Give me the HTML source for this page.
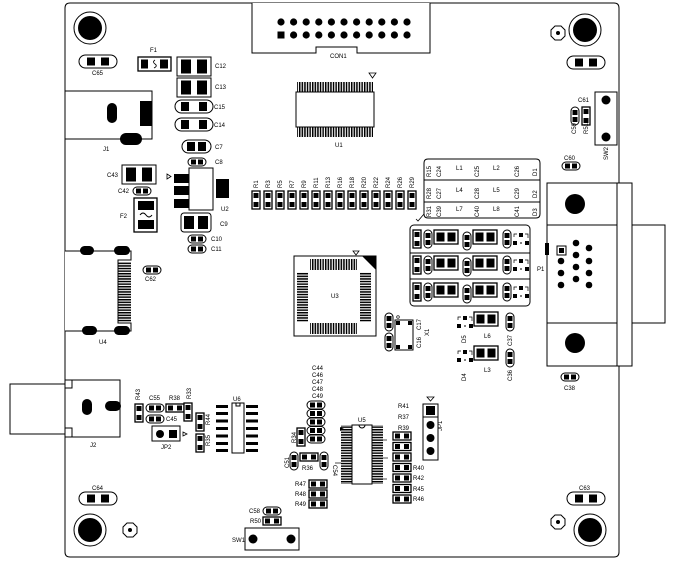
<!DOCTYPE html>
<html><head><meta charset="utf-8"><style>
html,body{margin:0;padding:0;background:#fff}
svg{display:block}
text{font-family:"Liberation Sans",sans-serif;font-size:6px;fill:#000}
</style></head><body>
<svg width="675" height="562" viewBox="0 0 675 562" xmlns="http://www.w3.org/2000/svg">
<defs>
<pattern id="vs" width="2.6" height="10" patternUnits="userSpaceOnUse"><rect width="1.5" height="10" fill="#000"/></pattern>
<pattern id="hs" width="10" height="2.6" patternUnits="userSpaceOnUse"><rect width="10" height="1.5" fill="#000"/></pattern>
<g id="capL"><rect x="0" y="0" width="38" height="13" rx="6.5" fill="#fff" stroke="#000"/><rect x="8" y="2.5" width="8" height="8"/><rect x="22" y="2.5" width="8" height="8"/></g>
<g id="capS"><rect x="0" y="0" width="18" height="8" rx="4" fill="#fff" stroke="#000"/><rect x="3" y="1.5" width="5" height="5"/><rect x="10" y="1.5" width="5" height="5"/></g>
<g id="capV"><rect x="0" y="0" width="8" height="18" rx="4" fill="#fff" stroke="#000"/><rect x="1.5" y="3" width="5" height="5"/><rect x="1.5" y="10" width="5" height="5"/></g>
<g id="resV"><rect x="0" y="0" width="8" height="18" fill="#fff" stroke="#000" stroke-width="1.3"/><rect x="1.5" y="2" width="5" height="5"/><rect x="1.5" y="11" width="5" height="5"/></g>
<g id="resH"><rect x="0" y="0" width="18" height="8" fill="#fff" stroke="#000" stroke-width="1.3"/><rect x="2" y="1.5" width="5" height="5"/><rect x="11" y="1.5" width="5" height="5"/></g>
<g id="capB"><rect x="0" y="0" width="34" height="19" fill="#fff" stroke="#000"/><rect x="4" y="2.5" width="10" height="14"/><rect x="20" y="2.5" width="10" height="14"/></g>
<g id="capR"><rect x="0" y="0" width="38" height="13" rx="6.5" fill="#fff" stroke="#000"/><rect x="6" y="2" width="8" height="9"/><rect x="24" y="2" width="8" height="9"/></g>
<g id="lind"><rect x="0" y="0" width="24" height="14" fill="#fff" stroke="#000" stroke-width="1.3"/><rect x="2.5" y="2.5" width="8" height="9"/><rect x="13.5" y="2.5" width="8" height="9"/></g>
<g id="diode"><path d="M2 4 V1 H5 M13 1 H16 V5" fill="none" stroke="#000" stroke-width="0.7"/><rect x="7" y="0" width="4" height="4"/><rect x="1" y="8" width="4" height="4"/><rect x="13" y="8" width="4" height="4"/><rect x="8" y="9.5" width="2" height="1"/></g>
<g id="hole"><circle r="16" fill="#fff" stroke="#000" stroke-width="1"/><circle r="12" fill="#000"/></g>
<g id="oct"><polygon points="-3,-7 3,-7 7,-3 7,3 3,7 -3,7 -7,3 -7,-3" fill="#fff" stroke="#000"/><circle r="2" fill="#000"/></g>
</defs>

<!-- board -->
<path d="M70 3 H614 Q619 3 619 8 V552 Q619 557 614 557 H70 Q65 557 65 552 V8 Q65 3 70 3 Z" fill="#fff" stroke="#000" stroke-width="1"/>

<!-- mounting holes -->
<use href="#hole" x="90" y="28"/>
<use href="#hole" x="585" y="30"/>
<use href="#hole" x="90" y="530"/>
<use href="#hole" x="590" y="530"/>
<use href="#oct" x="558" y="33"/>
<use href="#oct" x="130" y="530"/>
<use href="#oct" x="558" y="522"/>
<use href="#capL" x="79" y="55"/><text x="92" y="75">C65</text>
<use href="#capL" x="567" y="56"/>
<use href="#capL" x="79" y="492"/><text x="92" y="490">C64</text>
<use href="#capL" x="567" y="492"/><text x="579" y="490">C63</text>

<!-- CON1 -->
<path d="M252 3 V53 H316 V47 H357 V53 H430 V3" fill="#fff" stroke="#000"/>
<g fill="#000">
<circle cx="281" cy="22" r="3.6"/><circle cx="293.6" cy="22" r="3.6"/><circle cx="306.2" cy="22" r="3.6"/><circle cx="318.8" cy="22" r="3.6"/><circle cx="331.4" cy="22" r="3.6"/><circle cx="344" cy="22" r="3.6"/><circle cx="356.6" cy="22" r="3.6"/><circle cx="369.2" cy="22" r="3.6"/><circle cx="381.8" cy="22" r="3.6"/><circle cx="394.4" cy="22" r="3.6"/><circle cx="407" cy="22" r="3.6"/>
<rect x="277.5" y="31.5" width="7" height="7"/><circle cx="293.6" cy="35" r="3.6"/><circle cx="306.2" cy="35" r="3.6"/><circle cx="318.8" cy="35" r="3.6"/><circle cx="331.4" cy="35" r="3.6"/><circle cx="344" cy="35" r="3.6"/><circle cx="356.6" cy="35" r="3.6"/><circle cx="369.2" cy="35" r="3.6"/><circle cx="381.8" cy="35" r="3.6"/><circle cx="394.4" cy="35" r="3.6"/><circle cx="407" cy="35" r="3.6"/>
</g>
<text x="330" y="58">CON1</text>

<!-- U1 -->
<rect x="297" y="82" width="76" height="10" fill="url(#vs)"/>
<rect x="297" y="127" width="76" height="10" fill="url(#vs)"/>
<rect x="296" y="92" width="78" height="35" fill="#fff" stroke="#000"/>
<path d="M369 73 H376 L372.5 78 Z" fill="#fff" stroke="#000" stroke-width="0.8"/>
<text x="335" y="147">U1</text>

<!-- F1 and caps column -->
<rect x="138" y="57" width="33" height="14" fill="#fff" stroke="#000" stroke-width="1.3"/>
<rect x="141" y="59.5" width="7" height="9"/><rect x="160" y="59.5" width="8" height="9"/>
<path d="M155 60 q-3 2 0 4 q3 2 -1 4" fill="none" stroke="#000" stroke-width="0.8"/>
<text x="150" y="52">F1</text>
<use href="#capB" x="177" y="57"/><text x="215" y="68">C12</text>
<use href="#capB" x="177" y="78"/><text x="215" y="89">C13</text>
<use href="#capR" x="175" y="100"/><text x="214" y="109">C15</text>
<use href="#capR" x="175" y="118"/><text x="214" y="127">C14</text>
<rect x="182" y="140" width="29" height="13" rx="6.5" fill="#fff" stroke="#000"/><rect x="187" y="142" width="8" height="9"/><rect x="198" y="142" width="8" height="9"/><text x="215" y="149">C7</text>
<use href="#capS" x="188" y="158"/><text x="215" y="164">C8</text>
<!-- U2 -->
<rect x="174" y="174" width="15" height="9"/><rect x="174" y="186" width="15" height="9"/><rect x="174" y="199" width="15" height="9"/>
<rect x="189" y="168" width="24" height="42" fill="#fff" stroke="#000"/>
<rect x="216" y="179" width="13" height="19"/>
<path d="M167 174 L171 176.5 L167 179 Z" fill="#fff" stroke="#000" stroke-width="0.8"/>
<text x="221" y="211">U2</text>
<rect x="181" y="213" width="30" height="19" rx="3" fill="#fff" stroke="#000"/><rect x="184" y="216" width="10" height="13"/><rect x="198" y="216" width="10" height="13"/><text x="220" y="226">C9</text>
<use href="#capS" x="188" y="235"/><text x="211" y="241">C10</text>
<use href="#capS" x="188" y="245"/><text x="211" y="251">C11</text>
<use href="#capB" x="122" y="165"/><text x="107" y="177">C43</text>
<use href="#capS" x="133" y="187"/><text x="118" y="193">C42</text>
<rect x="134" y="198" width="23" height="34" fill="#fff" stroke="#000" stroke-width="1.3"/><rect x="138" y="201" width="16" height="9"/><rect x="138" y="220" width="16" height="9"/><path d="M140 215 q3 -4 6 0 q3 4 6 0" fill="none" stroke="#000"/>
<text x="120" y="218">F2</text>

<!-- J1 -->
<rect x="65" y="91" width="87" height="48" fill="#fff" stroke="#000"/>
<rect x="107" y="103" width="10" height="20" rx="5"/>
<rect x="140" y="101" width="12" height="25"/>
<rect x="120" y="133" width="22" height="12" rx="6"/>
<text x="103" y="151">J1</text>

<!-- U4 -->
<path d="M65 251 H131 V260 H118 V323 H131 V331 H65" fill="#fff" stroke="#000"/>
<rect x="118" y="262" width="13" height="60" fill="url(#hs)"/>
<rect x="80" y="246" width="14" height="9" rx="4.5"/><rect x="114" y="246" width="16" height="9" rx="4.5"/>
<rect x="82" y="326" width="15" height="9" rx="4.5"/><rect x="114" y="326" width="16" height="9" rx="4.5"/>
<text x="99" y="344">U4</text>
<use href="#capS" x="143" y="266"/><text x="145" y="281">C62</text>

<!-- J2 -->
<rect x="10" y="384" width="55" height="50" fill="#fff" stroke="#000"/>
<rect x="65" y="380" width="55" height="57" fill="#fff" stroke="#000"/>
<path d="M65 388 H72 V380 M65 428 H72 V437" fill="none" stroke="#000"/>
<rect x="82" y="399" width="10" height="16" rx="5"/>
<rect x="105" y="401" width="16" height="10" rx="5"/>
<text x="90" y="447">J2</text>

<!-- R1..R29 -->
<g>
<use href="#resV" x="252" y="191"/><use href="#resV" x="264" y="191"/><use href="#resV" x="276" y="191"/><use href="#resV" x="288" y="191"/><use href="#resV" x="300" y="191"/><use href="#resV" x="312" y="191"/><use href="#resV" x="324" y="191"/><use href="#resV" x="336" y="191"/><use href="#resV" x="348" y="191"/><use href="#resV" x="360" y="191"/><use href="#resV" x="372" y="191"/><use href="#resV" x="384" y="191"/><use href="#resV" x="396" y="191"/><use href="#resV" x="408" y="191"/>
</g>
<g font-size="5.5">
<text transform="translate(258,188) rotate(-90)">R1</text><text transform="translate(270,188) rotate(-90)">R3</text><text transform="translate(282,188) rotate(-90)">R5</text><text transform="translate(294,188) rotate(-90)">R7</text><text transform="translate(306,188) rotate(-90)">R9</text><text transform="translate(318,188) rotate(-90)">R11</text><text transform="translate(330,188) rotate(-90)">R13</text><text transform="translate(342,188) rotate(-90)">R16</text><text transform="translate(354,188) rotate(-90)">R18</text><text transform="translate(366,188) rotate(-90)">R20</text><text transform="translate(378,188) rotate(-90)">R22</text><text transform="translate(390,188) rotate(-90)">R24</text><text transform="translate(402,188) rotate(-90)">R26</text><text transform="translate(414,188) rotate(-90)">R29</text>
</g>

<!-- table -->
<path d="M428 159 H536 Q540 159 540 163 V214 Q540 218 536 218 H428 Q424 218 424 214 V163 Q424 159 428 159 Z" fill="#fff" stroke="#000"/>
<line x1="424" y1="180" x2="540" y2="180" stroke="#000"/><line x1="424" y1="202" x2="540" y2="202" stroke="#000"/>
<path d="M424 214 L418 221 L416 219" fill="none" stroke="#000" stroke-width="0.8"/>
<g font-size="5.5">
<text transform="translate(431,177) rotate(-90)">R15</text><text transform="translate(441,177) rotate(-90)">C24</text><text x="456" y="170">L1</text><text transform="translate(479,177) rotate(-90)">C25</text><text x="493" y="170">L2</text><text transform="translate(519,177) rotate(-90)">C26</text><text transform="translate(537,176) rotate(-90)">D1</text>
<text transform="translate(431,199) rotate(-90)">R28</text><text transform="translate(441,199) rotate(-90)">C27</text><text x="456" y="192">L4</text><text transform="translate(479,199) rotate(-90)">C28</text><text x="493" y="192">L5</text><text transform="translate(519,199) rotate(-90)">C29</text><text transform="translate(537,198) rotate(-90)">D2</text>
<text transform="translate(431,217) rotate(-90)">R31</text><text transform="translate(441,217) rotate(-90)">C39</text><text x="456" y="211">L7</text><text transform="translate(479,217) rotate(-90)">C40</text><text x="493" y="211">L8</text><text transform="translate(519,217) rotate(-90)">C41</text><text transform="translate(537,216) rotate(-90)">D3</text>
</g>

<!-- filter box -->
<rect x="410" y="225" width="120" height="81" rx="4" fill="#fff" stroke="#000"/>
<line x1="410" y1="253" x2="530" y2="253" stroke="#000"/><line x1="410" y1="279" x2="530" y2="279" stroke="#000"/>
<g id="frow">
<use href="#resV" x="413" y="230"/><use href="#capV" x="424" y="230"/><use href="#lind" x="434" y="230"/><use href="#capV" x="463" y="232"/><use href="#lind" x="473" y="230"/><use href="#capV" x="503" y="230"/><use href="#diode" x="512" y="233"/>
</g>
<use href="#frow" y="26"/>
<use href="#frow" y="53"/>
<text x="537" y="271">P1</text>

<!-- U3 -->
<rect x="294" y="256" width="82" height="80" fill="#fff" stroke="#000"/>
<path d="M362 256 H376 V270 Z" fill="#000"/>
<path d="M353 251 H359 L356 255 Z" fill="#fff" stroke="#000" stroke-width="0.8"/>
<rect x="310" y="259" width="47" height="11" fill="url(#vs)"/>
<rect x="310" y="323" width="47" height="11" fill="url(#vs)"/>
<rect x="297" y="272" width="11" height="50" fill="url(#hs)"/>
<rect x="360" y="272" width="11" height="50" fill="url(#hs)"/>
<text x="331" y="298">U3</text>

<!-- X1 -->
<use href="#capV" x="385" y="313"/><use href="#capV" x="385" y="333"/>
<rect x="395" y="320" width="18" height="30" fill="#fff" stroke="#000"/>
<rect x="396" y="321" width="4" height="4"/><rect x="408" y="321" width="4" height="4"/><rect x="396" y="345" width="4" height="4"/><rect x="408" y="345" width="4" height="4"/>
<circle cx="398" cy="317" r="1.3" fill="none" stroke="#000" stroke-width="0.7"/>
<text transform="translate(421,330) rotate(-90)">C17</text><text transform="translate(421,348) rotate(-90)">C16</text><text transform="translate(429,336) rotate(-90)">X1</text>

<!-- D5 L6, D4 L3 -->
<use href="#diode" x="456" y="316"/><use href="#lind" x="474" y="312"/><use href="#capV" x="506" y="313"/>
<text transform="translate(466,343) rotate(-90)">D5</text><text x="484" y="338">L6</text><text transform="translate(512,346) rotate(-90)">C37</text>
<use href="#diode" x="456" y="350"/><use href="#lind" x="474" y="346"/><use href="#capV" x="506" y="349"/>
<text transform="translate(466,381) rotate(-90)">D4</text><text x="484" y="372">L3</text><text transform="translate(512,381) rotate(-90)">C36</text>

<!-- P1 -->
<rect x="547" y="183" width="85" height="183" fill="#fff" stroke="#000"/>
<line x1="547" y1="225" x2="617" y2="225" stroke="#000"/><line x1="547" y1="323" x2="617" y2="323" stroke="#000"/>
<line x1="617" y1="183" x2="617" y2="366" stroke="#000"/>
<rect x="632" y="225" width="33" height="98" fill="#fff" stroke="#000"/>
<circle cx="575" cy="204" r="10"/><circle cx="575" cy="343" r="10"/>
<rect x="545" y="243" width="4" height="12"/>
<rect x="557" y="246" width="9" height="9" fill="#fff" stroke="#000"/><rect x="559" y="248" width="5" height="5"/>
<g fill="#000"><circle cx="576" cy="243" r="3.3"/><circle cx="576" cy="255" r="3.3"/><circle cx="576" cy="267" r="3.3"/><circle cx="576" cy="279" r="3.3"/><circle cx="561" cy="261" r="3.3"/><circle cx="561" cy="273" r="3.3"/><circle cx="561" cy="285" r="3.3"/><circle cx="589" cy="248" r="3.3"/><circle cx="589" cy="261" r="3.3"/><circle cx="589" cy="273" r="3.3"/><circle cx="589" cy="285" r="3.3"/></g>
<use href="#capS" x="561" y="373"/><text x="564" y="390">C38</text>

<!-- right top components -->
<text x="578" y="102">C61</text>
<use href="#capV" x="571" y="107"/><use href="#resV" x="582" y="107"/>
<text transform="translate(576,134) rotate(-90)">C59</text><text transform="translate(588,134) rotate(-90)">R51</text>
<rect x="595" y="92" width="22" height="53" fill="#fff" stroke="#000"/>
<circle cx="606" cy="100" r="4.5"/><circle cx="606" cy="137" r="4.5"/>
<text transform="translate(608,160) rotate(-90)">SW2</text>
<text x="564" y="160">C60</text><use href="#capS" x="562" y="162"/>

<!-- lower-left group -->
<use href="#resV" x="135" y="404"/><text transform="translate(140,400) rotate(-90)">R43</text>
<use href="#capS" x="146" y="404"/><text x="149" y="400">C55</text>
<use href="#capS" x="146" y="415"/><text x="166" y="421">C45</text>
<use href="#resH" x="166" y="404"/><text x="169" y="400">R38</text>
<use href="#resV" x="184" y="403"/><text transform="translate(191,399) rotate(-90)">R33</text>
<use href="#resV" x="196" y="413"/><text transform="translate(210,425) rotate(-90)">R44</text>
<use href="#resV" x="196" y="434"/><text transform="translate(210,446) rotate(-90)">R35</text>
<rect x="152" y="426" width="28" height="15" fill="#fff" stroke="#000"/><circle cx="160" cy="434" r="4"/><rect x="169" y="430" width="8" height="8"/>
<path d="M183 432 L187 434 L183 436 Z" fill="#fff" stroke="#000" stroke-width="0.8"/>
<text x="161" y="449">JP2</text>

<!-- U6 -->
<g fill="#000"><rect x="216" y="405" width="12" height="3"/><rect x="216" y="412" width="12" height="3"/><rect x="216" y="419.5" width="12" height="3"/><rect x="216" y="427" width="12" height="3"/><rect x="216" y="434.5" width="12" height="3"/><rect x="216" y="442" width="12" height="3"/><rect x="216" y="449" width="12" height="3"/>
<rect x="246" y="405" width="12" height="3"/><rect x="246" y="412" width="12" height="3"/><rect x="246" y="419.5" width="12" height="3"/><rect x="246" y="427" width="12" height="3"/><rect x="246" y="434.5" width="12" height="3"/><rect x="246" y="442" width="12" height="3"/><rect x="246" y="449" width="12" height="3"/></g>
<rect x="232" y="403" width="12" height="50" fill="#fff" stroke="#000"/>
<path d="M236 403 V406 H240 V403" fill="none" stroke="#000"/>
<text x="233" y="401">U6</text>

<!-- C44.. stack -->
<g font-size="5.5"><text x="312" y="370">C44</text><text x="312" y="377">C46</text><text x="312" y="384">C47</text><text x="312" y="391">C48</text><text x="312" y="398">C49</text></g>
<use href="#capS" x="307" y="401"/><use href="#capS" x="307" y="409.5"/><use href="#capS" x="307" y="418"/><use href="#capS" x="307" y="426.5"/><use href="#capS" x="307" y="435"/>
<use href="#resV" x="297" y="428"/><text transform="translate(296,443) rotate(-90)">R34</text>
<use href="#capV" x="290" y="452"/><text transform="translate(289,468) rotate(-90)">C51</text>
<use href="#resH" x="300" y="453"/><text x="302" y="470">R36</text>
<use href="#capV" x="320" y="452"/><text transform="translate(333,465) rotate(90)">C54</text>
<use href="#resH" x="309" y="480"/><text x="295" y="486">R47</text>
<use href="#resH" x="309" y="490"/><text x="295" y="496">R48</text>
<use href="#resH" x="309" y="500"/><text x="295" y="506">R49</text>
<use href="#capS" x="263" y="507"/><text x="249" y="513">C58</text>
<use href="#resH" x="263" y="517"/><text x="250" y="523">R50</text>
<rect x="245" y="528" width="54" height="22" fill="#fff" stroke="#000"/>
<circle cx="253" cy="539" r="4.5"/><circle cx="291" cy="539" r="4.5"/>
<text x="232" y="542">SW1</text>

<!-- U5 -->
<rect x="341" y="425" width="11" height="59" fill="url(#hs)"/>
<rect x="372" y="425" width="11" height="59" fill="url(#hs)"/>
<rect x="352" y="425" width="20" height="59" fill="#fff" stroke="#000"/>
<path d="M359 425 a3 3 0 0 0 6 0" fill="none" stroke="#000"/>
<path d="M340 427 L344 429 L340 431 Z" fill="#000"/>
<line x1="383" y1="440" x2="387" y2="440" stroke="#000" stroke-width="0.7"/><line x1="383" y1="458" x2="388" y2="458" stroke="#000" stroke-width="0.7"/><line x1="383" y1="479" x2="387" y2="479" stroke="#000" stroke-width="0.7"/><line x1="335" y1="463" x2="341" y2="463" stroke="#000" stroke-width="0.7"/>
<text x="358" y="422">U5</text>
<g font-size="5.5"><text x="398" y="408">R41</text><text x="398" y="419">R37</text><text x="398" y="430">R39</text>
<text x="413" y="470">R40</text><text x="413" y="480">R42</text><text x="413" y="491">R45</text><text x="413" y="501">R46</text></g>
<use href="#resH" x="393" y="432"/><use href="#resH" x="393" y="442.5"/><use href="#resH" x="393" y="453"/><use href="#resH" x="393" y="463.5"/><use href="#resH" x="393" y="474"/><use href="#resH" x="393" y="484.5"/><use href="#resH" x="393" y="495"/>
<rect x="423" y="404" width="15" height="56" fill="#fff" stroke="#000"/>
<line x1="423" y1="417" x2="438" y2="417" stroke="#000"/>
<rect x="426" y="406" width="9" height="9"/><circle cx="430.5" cy="425" r="4"/><circle cx="430.5" cy="438" r="4"/><circle cx="430.5" cy="451" r="4"/>
<path d="M427 397 H434 L430.5 401 Z" fill="#fff" stroke="#000" stroke-width="0.8"/>
<text transform="translate(442,431) rotate(-90)">JP1</text>
</svg>
</body></html>
